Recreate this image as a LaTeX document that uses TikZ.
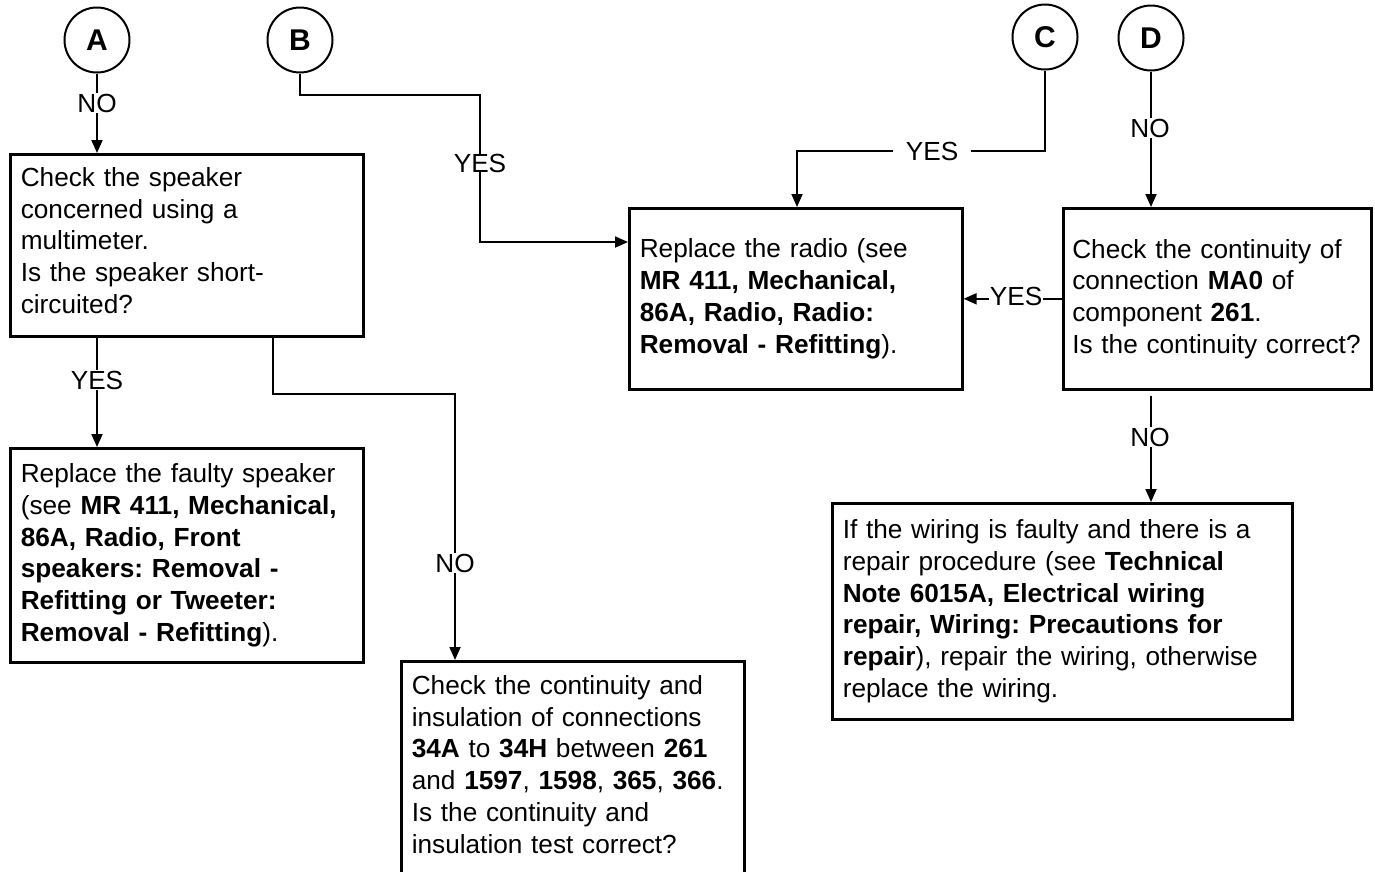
\documentclass[tikz,border=0pt]{standalone}
\usepackage{fontspec}
\setmainfont{Liberation Sans}
\usetikzlibrary{arrows.meta}
\frenchspacing
\hyphenpenalty=10000
\exhyphenpenalty=10000
\begin{document}
\begin{tikzpicture}[x=1pt,y=-1pt,
  box/.style={draw, line width=2.6pt, rectangle, anchor=north west, inner xsep=10.5pt, inner ysep=0pt, align=left, font=\fontsize{26.2}{31.7}\selectfont},
  conn/.style={line width=1.8pt},
  arr/.style={conn, -{Triangle[length=13pt,width=11pt]}},
  lbl/.style={fill=white, inner sep=1pt, font=\fontsize{26.2}{32}\selectfont},
  circ/.style={draw, circle, line width=2pt, minimum size=65pt, inner sep=0pt, font=\fontsize{30}{30}\selectfont\bfseries}]
\useasboundingbox (0,0) rectangle (1375,871);
\clip (0,0) rectangle (1375,871);

% connectors (circles)
\node[circ] (cA) at (97,40) {A};
\node[circ] (cB) at (300,40) {B};
\node[circ] (cC) at (1045,37) {C};
\node[circ] (cD) at (1151,38) {D};

% boxes
\node[box, text width=332pt, minimum height=182pt] (b1) at (9,153)
 {Check the speaker\\concerned using a\\multimeter.\\Is the speaker short-\\circuited?\\[-21.7pt]\mbox{}};
\node[box, text width=332pt, minimum height=214pt] (b2) at (9,447)
 {Replace the faulty speaker\\(see \textbf{MR 411, Mechanical,}\\\textbf{86A, Radio, Front}\\\textbf{speakers: Removal -}\\\textbf{Refitting or Tweeter:}\\\textbf{Removal - Refitting}).};
\node[box, text width=312pt, minimum height=181pt] (radio) at (628,207)
 {Replace the radio (see\\\textbf{MR 411, Mechanical,}\\\textbf{86A, Radio, Radio:}\\\textbf{Removal - Refitting}).};
\node[box, inner xsep=9pt, text width=290pt, minimum height=181pt] (b3) at (1062,207)
 {Check the continuity of\\connection \textbf{MA0} of\\component \textbf{261}.\\Is the continuity correct?};
\node[box, text width=322pt, minimum height=214pt] (b4) at (400,660)
 {Check the continuity and\\insulation of connections\\\textbf{34A} to \textbf{34H} between \textbf{261}\\and \textbf{1597}, \textbf{1598}, \textbf{365}, \textbf{366}.\\Is the continuity and\\insulation test correct?\\[-23.7pt]\mbox{}};
\node[box, text width=439pt, minimum height=216pt] (b5) at (831,502)
 {If the wiring is faulty and there is a\\repair procedure (see \textbf{Technical}\\\textbf{Note 6015A, Electrical wiring}\\\textbf{repair, Wiring: Precautions for}\\\textbf{repair}), repair the wiring, otherwise\\replace the wiring.};

% helper coordinates
\coordinate (k1) at (273,394);
\coordinate (k2) at (455,394);
\coordinate (kb1) at (480,95);
\coordinate (kb2) at (480,242);
\coordinate (kc) at (797,151);

% A -> b1
\draw[arr] (cA.south) -- (cA.south |- b1.north);
\node[lbl] at (97,103) {NO};
% b1 -> b2
\draw[arr] (cA |- b1.south) -- (cA |- b2.north);
\node[lbl] at (97,380) {YES};
% b1 -> b4
\draw[arr] (k1 |- b1.south) -- (k1) -- (k2) -- (k2 |- b4.north);
\node[lbl] at (455,563) {NO};
% B -> radio
\draw[arr] (cB.south) |- (kb1) -- (kb2) -- (kb2 -| radio.west);
\node[lbl, inner sep=0pt] at (480,163) {YES};
% C -> radio
\draw[arr] (cC.south) |- (kc) -- (kc |- radio.north);
\node[lbl, inner xsep=13pt] at (932,151) {YES};
% D -> b3
\draw[arr] (cD.south) -- (cD.south |- b3.north);
\node[lbl] at (1150,128) {NO};
% b3 -> radio
\draw[arr] (b3.west) -- (radio.east);
\node[lbl] at (1016,296) {YES};
% b3 -> b5
\draw[arr, shorten <=5pt] (cD |- b3.south) -- (cD |- b5.north);
\node[lbl] at (1150,437) {NO};
\end{tikzpicture}
\end{document}
